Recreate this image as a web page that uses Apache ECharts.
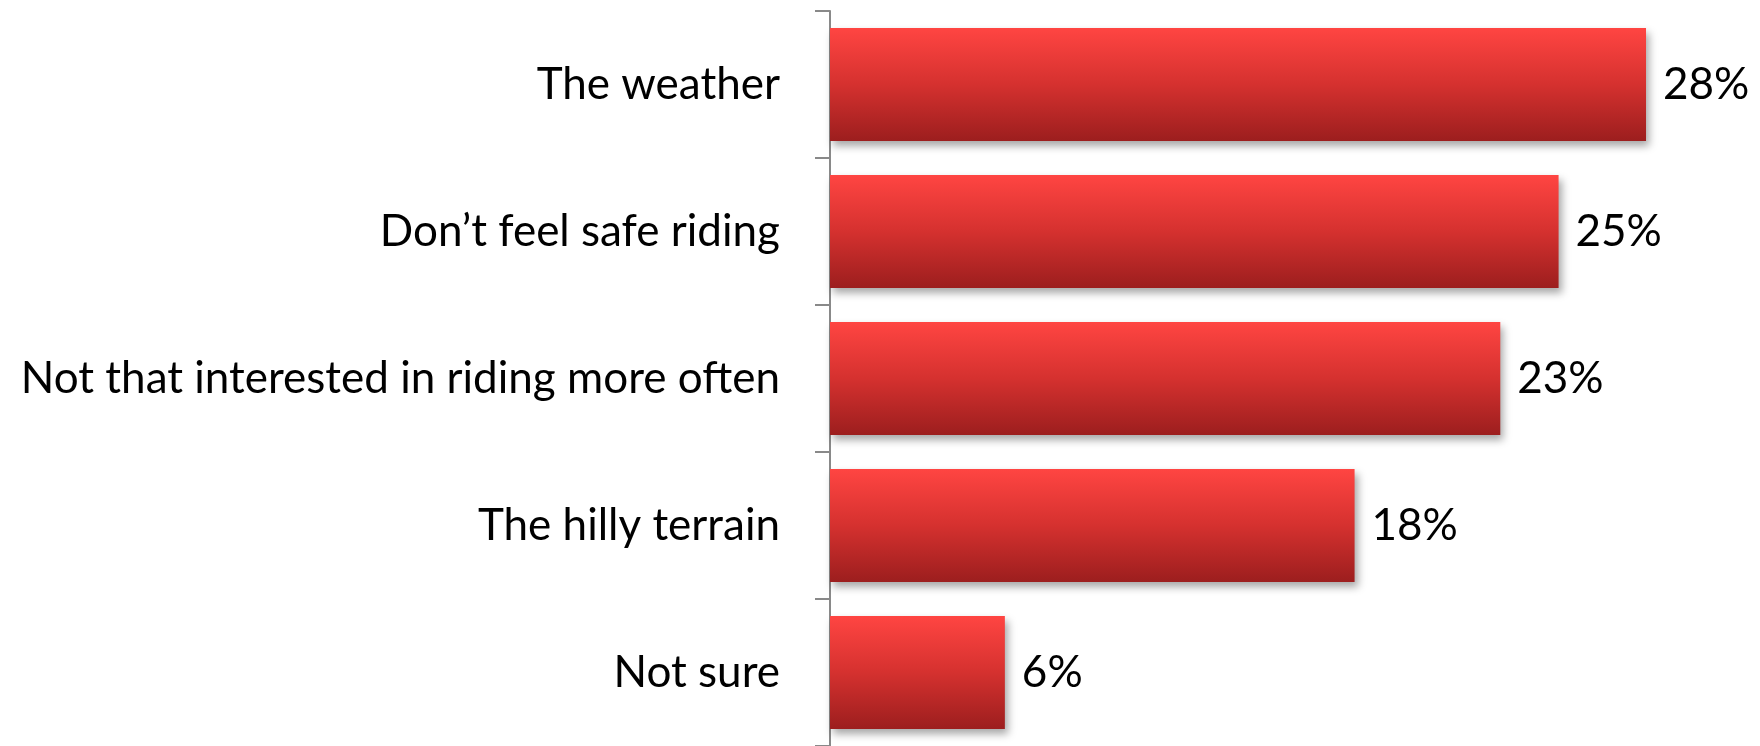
<!DOCTYPE html>
<html>
<head>
<meta charset="utf-8">
<script src="https://cdn.jsdelivr.net/npm/echarts@6/dist/echarts.min.js"></script>
<style>
html,body{margin:0;padding:0;background:#fff;}
#chart{width:1760px;height:746px;}
</style>
</head>
<body>
<div id="chart"></div>
<script>
const categories = ["The weather", "Don\u2019t feel safe riding", "Not that interested in riding more often", "The hilly terrain", "Not sure"];
const values = [28, 25, 23, 18, 6];

const chart = echarts.init(document.getElementById('chart'), null, {renderer: 'canvas'});
const FONT = 'Lato';
chart.setOption({
  animation: false,
  backgroundColor: '#ffffff',
  grid: {left: 830, top: 11, width: 874.3, height: 740, containLabel: false},
  xAxis: {
    type: 'value', min: 0, max: 30, show: false
  },
  yAxis: {
    type: 'category',
    data: categories,
    inverse: true,
    axisLine: {show: true, lineStyle: {color: '#898989', width: 2}},
    axisTick: {show: true, length: 15, lineStyle: {color: '#898989', width: 2}},
    axisLabel: {margin: 50, color: '#000', fontFamily: FONT, fontSize: 44}
  },
  series: [{
    type: 'bar',
    data: values,
    barCategoryGap: '23%',
    itemStyle: {
      color: new echarts.graphic.LinearGradient(0, 0, 0, 1, [
        {offset: 0, color: '#ff4542'},
        {offset: 0.5, color: '#d5312f'},
        {offset: 1, color: '#9c1e1e'}
      ]),
      shadowColor: 'rgba(0,0,0,0.35)',
      shadowBlur: 8,
      shadowOffsetX: 3,
      shadowOffsetY: 5
    },
    label: {
      show: true, position: 'right', distance: 17,
      color: '#000', fontFamily: FONT, fontSize: 44,
      formatter: p => p.value + '%'
    }
  }]
});
</script>
</body>
</html>
